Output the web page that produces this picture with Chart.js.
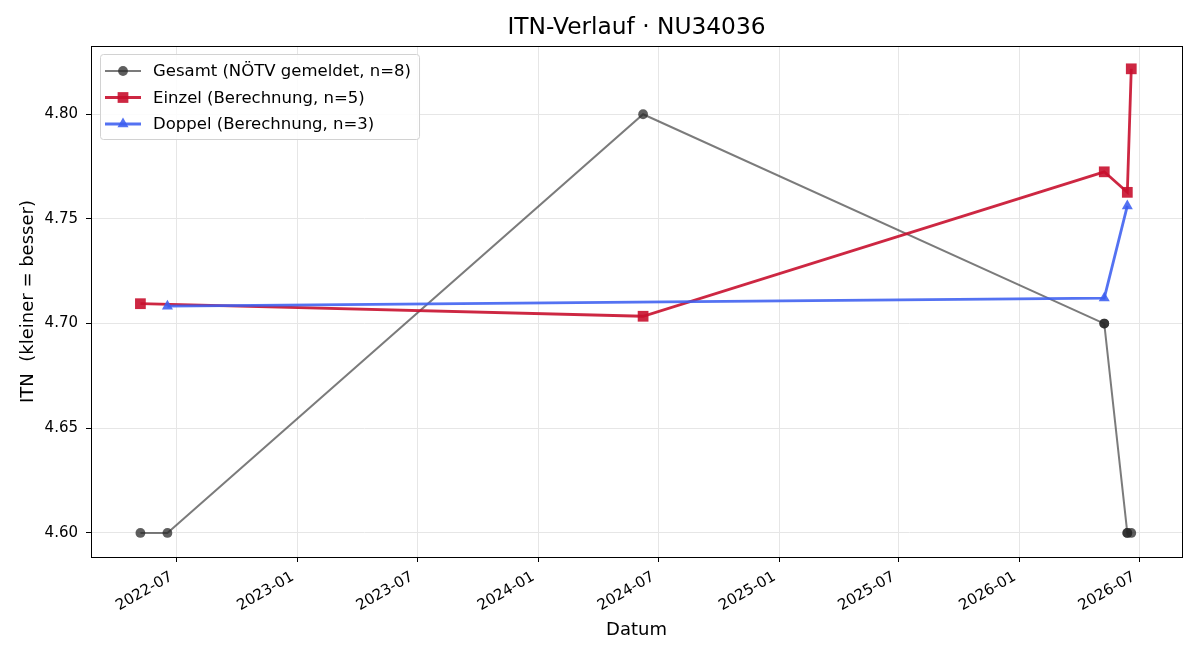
<!DOCTYPE html>
<html><head><meta charset="utf-8">
<script src="https://cdn.jsdelivr.net/npm/chart.js@4.4.1/dist/chart.umd.min.js"></script>
<style>html,body{margin:0;padding:0;background:#fff}#wrap{width:1200px;height:660px}</style>
</head><body><div id="wrap"><canvas id="c" width="1200" height="660"></canvas></div>
<script>
const chartTitle = 'ITN-Verlauf · NU34036';
const xAxisTitle = 'Datum';
const yAxisTitle = 'ITN  (kleiner = besser)';

const gesamtLabel = 'Gesamt (NÖTV gemeldet, n=8)';
const gesamtDates = ['2022-05-07','2022-06-17','2024-06-08','2026-05-09','2026-05-09','2026-06-13','2026-06-13','2026-06-19'];
const gesamtValues = [4.60, 4.60, 4.80, 4.70, 4.70, 4.60, 4.60, 4.60];

const einzelLabel = 'Einzel (Berechnung, n=5)';
const einzelDates = ['2022-05-07','2024-06-08','2026-05-09','2026-06-13','2026-06-19'];
const einzelValues = [4.7095, 4.7035, 4.7725, 4.7627, 4.8217];

const doppelLabel = 'Doppel (Berechnung, n=3)';
const doppelDates = ['2022-06-17','2026-05-09','2026-06-13'];
const doppelValues = [4.7083, 4.7122, 4.7562];

const xTickLabels = ['2022-07','2023-01','2023-07','2024-01','2024-07','2025-01','2025-07','2026-01','2026-07'];
const yTickValues = [4.60, 4.65, 4.70, 4.75, 4.80];
const xRange = ['2022-02-21','2026-09-04'];
const yRange = [4.5885, 4.8326];

function toMs(s){ const p = s.split('-').map(Number); return Date.UTC(p[0], p[1]-1, p[2] || 1); }
function pts(d, v){ return d.map((s,i)=>({x: toMs(s), y: v[i]})); }
const xTickValues = xTickLabels.map(toMs);

const FONT = 'DejaVu Sans';
Chart.defaults.font.family = FONT;
Chart.defaults.color = '#000';

function drawMarker(ctx, style, x, y, r, color){
  ctx.save();
  ctx.fillStyle = color;
  ctx.beginPath();
  if (style === 'circle') { ctx.arc(x, y, r, 0, Math.PI*2); }
  else if (style === 'rect') { const s = Math.SQRT1_2 * r; ctx.rect(x-s, y-s, 2*s, 2*s); }
  else if (style === 'triangle') {
    let a = 0;
    ctx.moveTo(x + Math.sin(a)*r, y - Math.cos(a)*r); a += 2*Math.PI/3;
    ctx.lineTo(x + Math.sin(a)*r, y - Math.cos(a)*r); a += 2*Math.PI/3;
    ctx.lineTo(x + Math.sin(a)*r, y - Math.cos(a)*r); ctx.closePath();
  }
  ctx.fill();
  ctx.restore();
}

const framePlugin = {
  id: 'frameLegend',
  afterDraw(chart){
    const {ctx, chartArea: a} = chart;
    const al = p => Math.round(p - 0.5) + 0.5;
    ctx.save();
    ctx.strokeStyle = '#000'; ctx.lineWidth = 1;
    ctx.strokeRect(al(a.left), al(a.top), al(a.right) - al(a.left), al(a.bottom) - al(a.top));
    // title centred over the plot area
    ctx.font = '23.3px "' + FONT + '"';
    ctx.fillStyle = '#000'; ctx.textAlign = 'center'; ctx.textBaseline = 'middle';
    ctx.fillText(chartTitle, (a.left + a.right) / 2, 28);
    // legend
    const ds = chart.data.datasets.slice().sort((p,q)=>p.legendIndex-q.legendIndex);
    ctx.font = '16.5px "' + FONT + '"';
    let maxW = 0; ds.forEach(d => { maxW = Math.max(maxW, ctx.measureText(d.label).width); });
    const bx = a.left + 9, by = a.top + 8, bw = 53 + maxW + 8, bh = 85;
    ctx.beginPath();
    if (ctx.roundRect) ctx.roundRect(bx+0.5, by+0.5, bw, bh, 3); else ctx.rect(bx+0.5, by+0.5, bw, bh);
    ctx.fillStyle = 'rgba(255,255,255,0.85)'; ctx.fill();
    ctx.strokeStyle = '#d2d2d2'; ctx.lineWidth = 1; ctx.stroke();
    ds.forEach((d, i) => {
      const y = by + 17 + i*26.5;
      ctx.beginPath(); ctx.moveTo(bx+5, y); ctx.lineTo(bx+41, y);
      ctx.strokeStyle = d.borderColor; ctx.lineWidth = d.borderWidth; ctx.stroke();
      drawMarker(ctx, d.pointStyle, bx+23, y, d.pointRadius, d.pointBackgroundColor);
      ctx.fillStyle = '#000'; ctx.textBaseline = 'middle'; ctx.textAlign = 'left';
      ctx.fillText(d.label, bx+53, y + 1);
    });
    ctx.restore();
  }
};

new Chart(document.getElementById('c'), {
  type: 'line',
  data: {
    datasets: [
      { label: gesamtLabel, legendIndex: 0, order: 3, data: pts(gesamtDates, gesamtValues),
        borderColor: 'rgba(60,60,60,0.68)', borderWidth: 2, pointStyle: 'circle', pointRadius: 4.9,
        pointBackgroundColor: 'rgba(40,40,40,0.75)', pointBorderColor: 'rgba(40,40,40,0)', pointBorderWidth: 0 },
      { label: einzelLabel, legendIndex: 1, order: 2, data: pts(einzelDates, einzelValues),
        borderColor: 'rgba(200,16,46,0.9)', borderWidth: 2.8, pointStyle: 'rect', pointRadius: 7.6,
        pointBackgroundColor: 'rgba(200,16,46,0.9)', pointBorderColor: 'rgba(200,16,46,0)', pointBorderWidth: 0 },
      { label: doppelLabel, legendIndex: 2, order: 1, data: pts(doppelDates, doppelValues),
        borderColor: 'rgba(60,95,240,0.88)', borderWidth: 2.8, pointStyle: 'triangle', pointRadius: 6.4,
        pointBackgroundColor: 'rgba(60,95,240,0.88)', pointBorderColor: 'rgba(60,95,240,0)', pointBorderWidth: 0 }
    ]
  },
  options: {
    responsive: false, animation: false, devicePixelRatio: 1,
    layout: { padding: { left: 0, right: 18, top: 46, bottom: 0 } },
    elements: { line: { tension: 0, fill: false } },
    plugins: {
      legend: { display: false },
      tooltip: { enabled: false },
      title: { display: false }
    },
    scales: {
      x: {
        type: 'linear', min: toMs(xRange[0]), max: toMs(xRange[1]),
        afterBuildTicks: s => { s.ticks = xTickValues.map(v => ({ value: v })); },
        afterFit: s => { s.height = 103; },
        ticks: { font: { size: 15 }, color: '#000', minRotation: 30, maxRotation: 30, autoSkip: false, padding: 6, labelOffset: -5,
          callback: (v, i) => xTickLabels[i] },
        grid: { color: '#e6e6e6', tickColor: '#000', tickLength: 5, lineWidth: 1 },
        border: { color: '#000', width: 1 },
        title: { display: true, text: xAxisTitle, color: '#000', font: { size: 18 }, padding: { top: 0, bottom: 18.6 } }
      },
      y: {
        type: 'linear', min: yRange[0], max: yRange[1],
        afterBuildTicks: s => { s.ticks = yTickValues.map(v => ({ value: v })); },
        afterFit: s => { s.width = 91; },
        ticks: { font: { size: 15 }, color: '#000', padding: 8, callback: v => Number(v).toFixed(2) },
        grid: { color: '#e6e6e6', tickColor: '#000', tickLength: 5, lineWidth: 1 },
        border: { color: '#000', width: 1 },
        title: { display: true, text: yAxisTitle, color: '#000', font: { size: 18 }, padding: { top: 17.6, bottom: 0 } }
      }
    }
  },
  plugins: [framePlugin]
});
</script>
</body></html>
